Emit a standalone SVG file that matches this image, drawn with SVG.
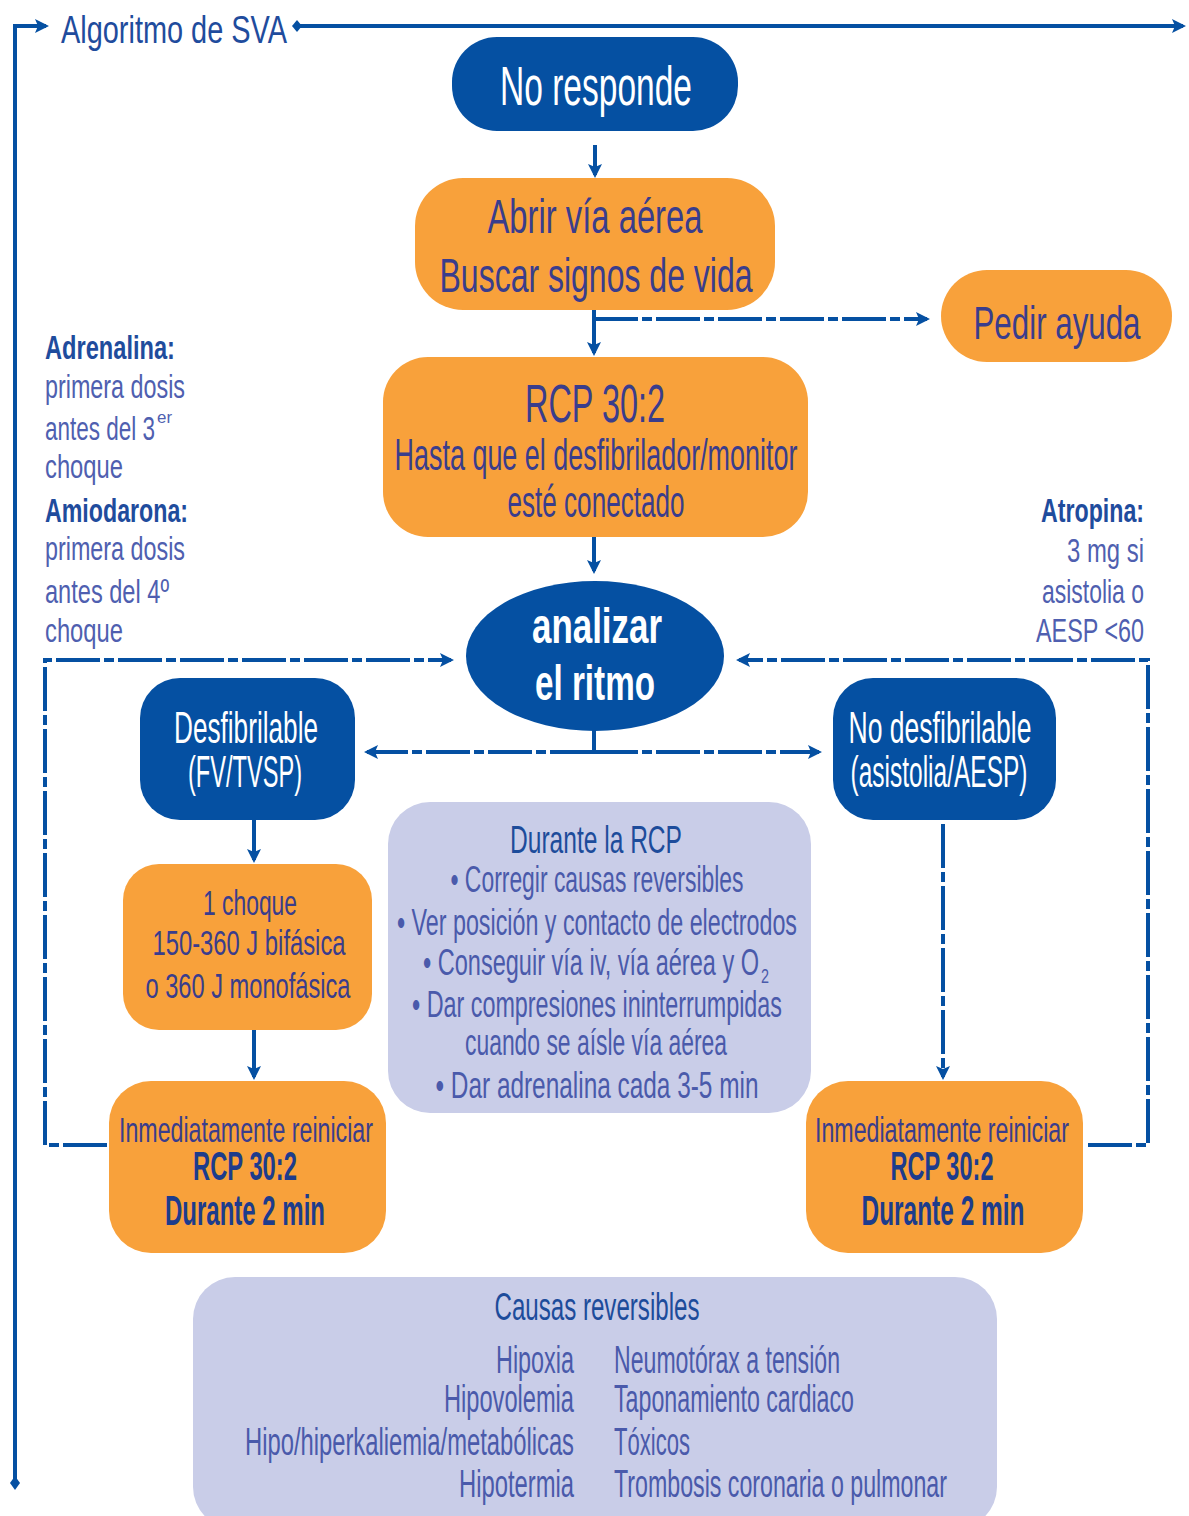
<svg xmlns="http://www.w3.org/2000/svg" width="1189" height="1516" viewBox="0 0 1189 1516">
<defs>
<style>
text{font-family:"Liberation Sans Narrow","Liberation Sans",Arial,sans-serif;}
.blue{fill:#0550a2;}
.orange{fill:#f8a13b;}
.lav{fill:#c9cde8;}
.w{fill:#ffffff;}
.ot{fill:#3a3d8c;}
.ob{fill:#1d3c8c;font-weight:bold;}
.lt{fill:#4a5aab;}
.lh{fill:#1d4c9b;}
.nt{fill:#4f5fb0;}
.nh{fill:#1f4c9d;font-weight:bold;}
.c{text-anchor:middle;}
.e{text-anchor:end;}
.ln{fill:none;stroke:#0550a2;stroke-width:4;}
.dash{stroke-dasharray:44 4 10 4;}
.ah{marker-end:url(#arr);}
</style>
<marker id="arr" markerUnits="userSpaceOnUse" markerWidth="16" markerHeight="16" refX="11" refY="7" orient="auto">
<path d="M0,0 L14,7 L0,14 L3,7 z" fill="#0550a2"/>
</marker>
</defs>
<rect width="1189" height="1516" fill="#ffffff"/>

<g id="connectors">
<path class="ln ah" d="M15,1483 L15,26 L46,26"/>
<path class="ln ah" d="M297,26 L1183,26"/>
<path d="M297,20 L302,26 L297,32 L292,26 z" fill="#0550a2"/>
<path d="M15,1476 L20,1483 L15,1490 L10,1483 z" fill="#0550a2"/>
<path class="ln ah" d="M595,145 L595,175"/>
<path class="ln ah" d="M594,310 L594,353"/>
<path class="ln dash ah" d="M594,319 L927,319"/>
<path class="ln ah" d="M594,537 L594,571"/>
<path class="ln dash ah" d="M107,1145 L45,1145 L45,660 L451,660"/>
<path class="ln dash ah" d="M1088,1145 L1148,1145 L1148,660 L739,660"/>
<path class="ln" d="M594,730 L594,752"/>
<path class="ln dash ah" d="M594,752 L367,752"/>
<path class="ln dash ah" d="M594,752 L819,752"/>
<path class="ln ah" d="M254,820 L254,860"/>
<path class="ln ah" d="M254,1030 L254,1077"/>
<path class="ln dash ah" d="M943,824 L943,1077"/>
</g>

<g id="header">
<text x="61" y="43" font-size="38" textLength="226" lengthAdjust="spacingAndGlyphs" fill="#1f4c9d">Algoritmo de SVA</text>
</g>

<g id="no-responde">
<rect class="blue" x="452" y="37" width="286" height="94" rx="45"/>
<text class="w c" x="596" y="105" font-size="56" textLength="192" lengthAdjust="spacingAndGlyphs">No responde</text>
</g>

<g id="abrir">
<rect class="orange" x="415" y="178" width="360" height="132" rx="48"/>
<text class="ot c" x="595" y="233" font-size="48" textLength="215" lengthAdjust="spacingAndGlyphs">Abrir vía aérea</text>
<text class="ot c" x="596" y="292" font-size="48" textLength="313" lengthAdjust="spacingAndGlyphs">Buscar signos de vida</text>
</g>

<g id="pedir-ayuda">
<rect class="orange" x="941" y="270" width="231" height="92" rx="46"/>
<text class="ot c" x="1057" y="339" font-size="46" textLength="167" lengthAdjust="spacingAndGlyphs">Pedir ayuda</text>
</g>

<g id="rcp">
<rect class="orange" x="383" y="357" width="425" height="180" rx="45"/>
<text class="ot c" x="595" y="422" font-size="54" textLength="140" lengthAdjust="spacingAndGlyphs">RCP 30:2</text>
<text class="ot c" x="596" y="470" font-size="44" textLength="403" lengthAdjust="spacingAndGlyphs">Hasta que el desfibrilador/monitor</text>
<text class="ot c" x="596" y="517" font-size="44" textLength="177" lengthAdjust="spacingAndGlyphs">esté conectado</text>
</g>

<g id="notas-izq">
<text class="nh" x="45" y="359" font-size="33" textLength="130" lengthAdjust="spacingAndGlyphs">Adrenalina:</text>
<text class="nt" x="45" y="398" font-size="33" textLength="140" lengthAdjust="spacingAndGlyphs">primera dosis</text>
<text class="nt" x="45" y="440" font-size="33" textLength="110" lengthAdjust="spacingAndGlyphs">antes del 3</text>
<text class="nt" x="157" y="423" font-size="17" textLength="15" lengthAdjust="spacingAndGlyphs">er</text>
<text class="nt" x="45" y="478" font-size="33" textLength="78" lengthAdjust="spacingAndGlyphs">choque</text>
<text class="nh" x="45" y="522" font-size="33" textLength="143" lengthAdjust="spacingAndGlyphs">Amiodarona:</text>
<text class="nt" x="45" y="560" font-size="33" textLength="140" lengthAdjust="spacingAndGlyphs">primera dosis</text>
<text class="nt" x="45" y="603" font-size="33" textLength="124" lengthAdjust="spacingAndGlyphs">antes del 4º</text>
<text class="nt" x="45" y="642" font-size="33" textLength="78" lengthAdjust="spacingAndGlyphs">choque</text>
</g>

<g id="notas-der">
<text class="nh e" x="1144" y="522" font-size="33" textLength="103" lengthAdjust="spacingAndGlyphs">Atropina:</text>
<text class="nt e" x="1144" y="562" font-size="33" textLength="77" lengthAdjust="spacingAndGlyphs">3 mg si</text>
<text class="nt e" x="1144" y="603" font-size="33" textLength="102" lengthAdjust="spacingAndGlyphs">asistolia o</text>
<text class="nt e" x="1144" y="642" font-size="33" textLength="108" lengthAdjust="spacingAndGlyphs">AESP &lt;60</text>
</g>

<g id="analizar">
<ellipse class="blue" cx="595" cy="656" rx="129" ry="75"/>
<text class="w c" x="597" y="643" font-size="50" font-weight="bold" textLength="130" lengthAdjust="spacingAndGlyphs">analizar</text>
<text class="w c" x="595" y="700" font-size="50" font-weight="bold" textLength="120" lengthAdjust="spacingAndGlyphs">el ritmo</text>
</g>

<g id="desfibrilable">
<rect class="blue" x="140" y="678" width="215" height="142" rx="40"/>
<text class="w c" x="246" y="743" font-size="44" textLength="144" lengthAdjust="spacingAndGlyphs">Desfibrilable</text>
<text class="w c" x="245" y="787" font-size="44" textLength="114" lengthAdjust="spacingAndGlyphs">(FV/TVSP)</text>
</g>

<g id="no-desfibrilable">
<rect class="blue" x="833" y="678" width="223" height="142" rx="40"/>
<text class="w c" x="940" y="743" font-size="44" textLength="183" lengthAdjust="spacingAndGlyphs">No desfibrilable</text>
<text class="w c" x="939" y="787" font-size="44" textLength="177" lengthAdjust="spacingAndGlyphs">(asistolia/AESP)</text>
</g>

<g id="choque">
<rect class="orange" x="123" y="864" width="249" height="166" rx="36"/>
<text class="ot c" x="250" y="915" font-size="35" textLength="94" lengthAdjust="spacingAndGlyphs">1 choque</text>
<text class="ot c" x="249" y="955" font-size="35" textLength="193" lengthAdjust="spacingAndGlyphs">150-360 J bifásica</text>
<text class="ot c" x="248" y="998" font-size="35" textLength="205" lengthAdjust="spacingAndGlyphs">o 360 J monofásica</text>
</g>

<g id="durante-rcp">
<rect class="lav" x="388" y="802" width="423" height="311" rx="42"/>
<text class="lh c" x="596" y="853" font-size="38" textLength="172" lengthAdjust="spacingAndGlyphs">Durante la RCP</text>
<text class="lt c" x="597" y="892" font-size="36" textLength="293" lengthAdjust="spacingAndGlyphs">• Corregir causas reversibles</text>
<text class="lt c" x="597" y="935" font-size="36" textLength="400" lengthAdjust="spacingAndGlyphs">• Ver posición y contacto de electrodos</text>
<text class="lt" x="423" y="975" font-size="36" textLength="336" lengthAdjust="spacingAndGlyphs">• Conseguir vía iv, vía aérea y O</text>
<text class="lt" x="761" y="983" font-size="20" textLength="8" lengthAdjust="spacingAndGlyphs">2</text>
<text class="lt c" x="597" y="1017" font-size="36" textLength="370" lengthAdjust="spacingAndGlyphs">• Dar compresiones ininterrumpidas</text>
<text class="lt c" x="596" y="1055" font-size="36" textLength="262" lengthAdjust="spacingAndGlyphs">cuando se aísle vía aérea</text>
<text class="lt c" x="597" y="1098" font-size="36" textLength="323" lengthAdjust="spacingAndGlyphs">• Dar adrenalina cada 3-5 min</text>
</g>

<g id="reiniciar-izq">
<rect class="orange" x="109" y="1081" width="277" height="172" rx="42"/>
<text class="ot c" x="246" y="1142" font-size="35" textLength="254" lengthAdjust="spacingAndGlyphs">Inmediatamente reiniciar</text>
<text class="ob c" x="245" y="1180" font-size="40" textLength="104" lengthAdjust="spacingAndGlyphs">RCP 30:2</text>
<text class="ob c" x="245" y="1225" font-size="42" textLength="160" lengthAdjust="spacingAndGlyphs">Durante 2 min</text>
</g>

<g id="reiniciar-der">
<rect class="orange" x="806" y="1081" width="277" height="172" rx="42"/>
<text class="ot c" x="942" y="1142" font-size="35" textLength="254" lengthAdjust="spacingAndGlyphs">Inmediatamente reiniciar</text>
<text class="ob c" x="942" y="1180" font-size="40" textLength="103" lengthAdjust="spacingAndGlyphs">RCP 30:2</text>
<text class="ob c" x="943" y="1225" font-size="42" textLength="163" lengthAdjust="spacingAndGlyphs">Durante 2 min</text>
</g>

<g id="causas">
<rect class="lav" x="193" y="1277" width="804" height="252" rx="42"/>
<text class="lh c" x="597" y="1320" font-size="38" textLength="205" lengthAdjust="spacingAndGlyphs">Causas reversibles</text>
<text class="lt e" x="574" y="1373" font-size="38" textLength="78" lengthAdjust="spacingAndGlyphs">Hipoxia</text>
<text class="lt e" x="574" y="1412" font-size="38" textLength="130" lengthAdjust="spacingAndGlyphs">Hipovolemia</text>
<text class="lt e" x="574" y="1455" font-size="38" textLength="329" lengthAdjust="spacingAndGlyphs">Hipo/hiperkaliemia/metabólicas</text>
<text class="lt e" x="574" y="1497" font-size="38" textLength="115" lengthAdjust="spacingAndGlyphs">Hipotermia</text>
<text class="lt" x="614" y="1373" font-size="38" textLength="226" lengthAdjust="spacingAndGlyphs">Neumotórax a tensión</text>
<text class="lt" x="614" y="1412" font-size="38" textLength="240" lengthAdjust="spacingAndGlyphs">Taponamiento cardiaco</text>
<text class="lt" x="614" y="1455" font-size="38" textLength="76" lengthAdjust="spacingAndGlyphs">Tóxicos</text>
<text class="lt" x="614" y="1497" font-size="38" textLength="333" lengthAdjust="spacingAndGlyphs">Trombosis coronaria o pulmonar</text>
</g>
</svg>
